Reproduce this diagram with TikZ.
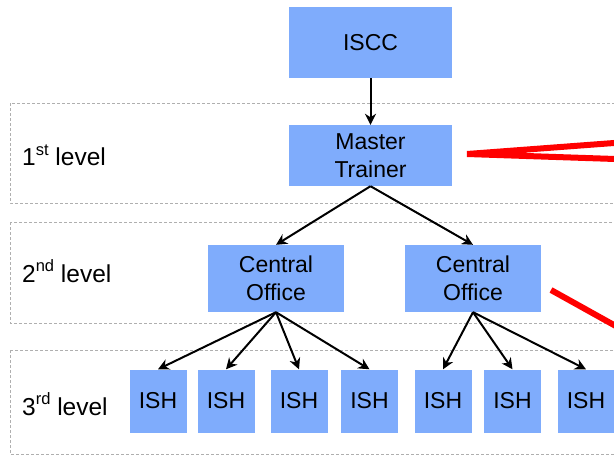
\documentclass[tikz,border=0pt]{standalone}
\usepackage{fontspec}
\setmainfont{Liberation Sans}
\usetikzlibrary{arrows.meta}
\definecolor{boxblue}{RGB}{127,172,252}
\definecolor{dashgray}{RGB}{175,175,175}
\newcommand{\supx}[1]{\raisebox{0.42em}{\fontsize{16.5}{16.5}\selectfont #1}}
\begin{document}
\begin{tikzpicture}[x=1pt,y=-1pt,
  box/.style={fill=boxblue, inner sep=0pt, align=center, font=\fontsize{23}{28}\selectfont},
  lvl/.style={draw=dashgray, line width=0.9pt, dash pattern=on 3pt off 2pt},
  arr/.style={-{Stealth[length=11pt,width=11pt,inset=3.5pt]}, line width=2pt},
  redl/.style={red, line width=6pt},
  lab/.style={anchor=west, font=\fontsize{24.5}{28}\selectfont, inner sep=0pt}]
\useasboundingbox (0,0) rectangle (614,455);
% level frames
\draw[lvl] (10,103) rectangle (630,203);
\draw[lvl] (10,222) rectangle (630,323);
\draw[lvl] (10,350) rectangle (630,454);
% labels
\node[lab] (l1) at (22,155) {1\supx{st} level};
\node[lab] (l2) at (22,271) {2\supx{nd} level};
\node[lab] (l3) at (22,404) {3\supx{rd} level};
% boxes
\node[box, minimum width=163pt, minimum height=71pt] (iscc) at (370.5,42.5) {ISCC};
\node[box, minimum width=163pt, minimum height=61pt] (mt) at (370.5,155.5) {Master\\Trainer};
\node[box, minimum width=136pt, minimum height=67pt] (co1) at (276,278.5) {Central\\Office};
\node[box, minimum width=136pt, minimum height=67pt] (co2) at (473,278.5) {Central\\Office};
\foreach \n/\x in {1/158,2/226,3/299,4/369.5,5/443,6/512.5,7/586}{
  \node[box, minimum width=57pt, minimum height=63pt] (ish\n) at (\x,401) {ISH};
}
% connectors
\draw[arr] (iscc.south) -- (mt.north);
\draw[arr] (mt.south) -- (co1.north);
\draw[arr] (mt.south) -- (co2.north);
\foreach \n in {1,2,3,4}{\draw[arr] (co1.south) -- (ish\n.north);}
\foreach \n in {5,6,7}{\draw[arr] (co2.south) -- (ish\n.north);}
% red lines
\coordinate (r0) at (467,154);
\coordinate (r1) at (630,141.8);
\coordinate (r2) at (630,159.5);
\coordinate (s0) at (551,290);
\coordinate (s1) at (635,336.7);
\draw[redl] (r1) -- (r0) -- (r2);
\draw[redl] (s0) -- (s1);
\end{tikzpicture}
\end{document}
